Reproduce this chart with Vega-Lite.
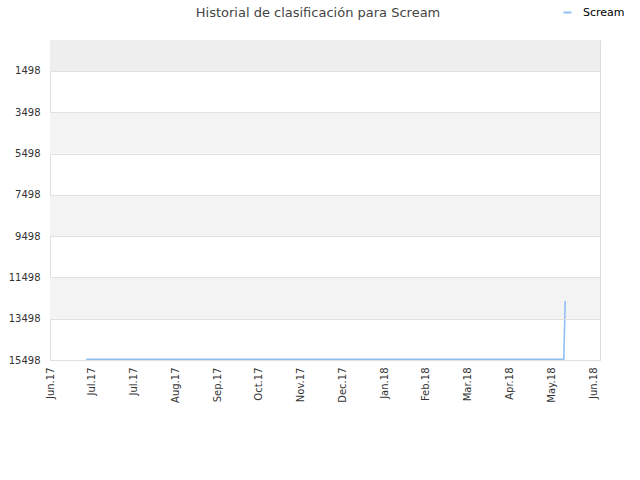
{
  "$schema": "https://vega.github.io/schema/vega-lite/v6.json",
  "description": "Historial de clasificación para Scream",
  "width": 550,
  "height": 320,
  "autosize": {"type": "none"},
  "padding": {"left": 50, "top": 40, "right": 40, "bottom": 120},
  "title": {
    "text": "Historial de clasificación para Scream",
    "font": "DejaVu Sans",
    "fontSize": 13,
    "fontWeight": "normal",
    "color": "#444444",
    "anchor": "middle",
    "offset": -13,
    "dx": -7
  },
  "datasets": {
    "rank": [
      {"date": "2017-06-27", "rank": 15470, "series": "Scream"},
      {"date": "2018-06-05", "rank": 15470, "series": "Scream"},
      {"date": "2018-06-06", "rank": 12640, "series": "Scream"}
    ],
    "topBand": [{"from": 0, "to": 1498}],
    "bands": [
      {"from": 3498, "to": 5498},
      {"from": 7498, "to": 9498},
      {"from": 11498, "to": 13498}
    ]
  },
  "layer": [
    {
      "data": {"name": "topBand"},
      "mark": {"type": "rect", "color": "#eeeeee"},
      "encoding": {
        "y": {
          "field": "from",
          "type": "quantitative",
          "scale": {"domain": [0, 15498], "reverse": true, "nice": false, "zero": false},
          "axis": {
            "title": null,
            "values": [1498, 3498, 5498, 7498, 9498, 11498, 13498, 15498],
            "format": "d",
            "labelFont": "DejaVu Sans",
            "labelFontSize": 10,
            "labelColor": "#333333",
            "labelPadding": 10,
            "labelFlush": false,
            "labelOverlap": false,
            "grid": true,
            "gridColor": "#e0e0e0",
            "ticks": false,
            "domain": false,
            "zindex": 1
          }
        },
        "y2": {"field": "to"}
      }
    },
    {
      "data": {"name": "bands"},
      "mark": {"type": "rect", "color": "#f3f3f3"},
      "encoding": {
        "y": {
          "field": "from",
          "type": "quantitative",
          "axis": {
            "title": null,
            "values": [1498, 3498, 5498, 7498, 9498, 11498, 13498, 15498],
            "format": "d",
            "labelFont": "DejaVu Sans",
            "labelFontSize": 10,
            "labelColor": "#333333",
            "labelPadding": 10,
            "labelFlush": false,
            "labelOverlap": false,
            "grid": true,
            "gridColor": "#e0e0e0",
            "ticks": false,
            "domain": false,
            "zindex": 1
          }
        },
        "y2": {"field": "to"}
      }
    },
    {
      "data": {"name": "rank"},
      "mark": {"type": "line", "strokeWidth": 1.6},
      "encoding": {
        "x": {
          "field": "date",
          "type": "temporal",
          "scale": {
            "domain": [
              {"year": 2017, "month": 6, "date": 1},
              {"year": 2018, "month": 7, "date": 1}
            ]
          },
          "axis": {
            "title": null,
            "values": [
              {"year": 2017, "month": 6, "date": 1},
              {"year": 2017, "month": 7, "date": 1},
              {"year": 2017, "month": 7, "date": 31},
              {"year": 2017, "month": 8, "date": 30},
              {"year": 2017, "month": 9, "date": 29},
              {"year": 2017, "month": 10, "date": 29},
              {"year": 2017, "month": 11, "date": 28},
              {"year": 2017, "month": 12, "date": 28},
              {"year": 2018, "month": 1, "date": 27},
              {"year": 2018, "month": 2, "date": 26},
              {"year": 2018, "month": 3, "date": 28},
              {"year": 2018, "month": 4, "date": 27},
              {"year": 2018, "month": 5, "date": 27},
              {"year": 2018, "month": 6, "date": 26}
            ],
            "format": "%b.%y",
            "labelAngle": -90,
            "labelFont": "DejaVu Sans",
            "labelFontSize": 10,
            "labelColor": "#333333",
            "labelPadding": 7,
            "labelOverlap": false,
            "labelFlush": false,
            "grid": false,
            "ticks": false,
            "domain": false
          }
        },
        "y": {
          "field": "rank",
          "type": "quantitative",
          "axis": {
            "title": null,
            "values": [1498, 3498, 5498, 7498, 9498, 11498, 13498, 15498],
            "format": "d",
            "labelFont": "DejaVu Sans",
            "labelFontSize": 10,
            "labelColor": "#333333",
            "labelPadding": 10,
            "labelFlush": false,
            "labelOverlap": false,
            "grid": true,
            "gridColor": "#e0e0e0",
            "ticks": false,
            "domain": false,
            "zindex": 1
          }
        },
        "color": {
          "field": "series",
          "type": "nominal",
          "scale": {"range": ["#90bef3"]},
          "legend": {
            "title": null,
            "orient": "none",
            "legendX": 512,
            "legendY": -33,
            "padding": 0,
            "symbolType": "stroke",
            "symbolSize": 64,
            "symbolStrokeWidth": 2,
            "labelFont": "DejaVu Sans",
            "labelFontSize": 11,
            "labelColor": "#000000",
            "labelOffset": 10
          }
        }
      }
    }
  ],
  "config": {
    "view": {"stroke": "#dddddd"},
    "background": "#ffffff"
  }
}
